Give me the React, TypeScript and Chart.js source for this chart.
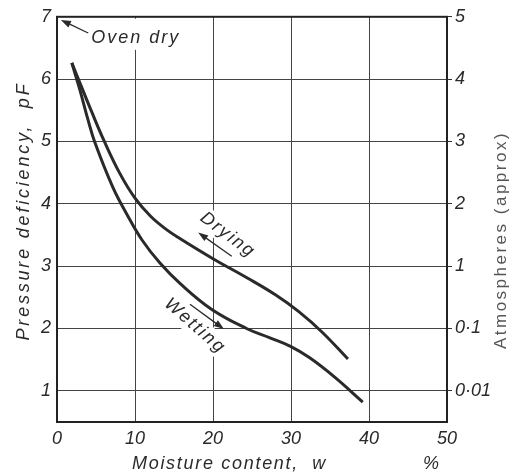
import React, { useEffect, useRef } from 'react';
import { Chart, registerables } from 'chart.js';

Chart.register(...registerables);

// ---- data ----
const moistureTicks = [0, 10, 20, 30, 40, 50];
const pFTicks = [1, 2, 3, 4, 5, 6, 7];
const atmosphereLabels = ['0·01', '0·1', '1', '2', '3', '4', '5'];

const dryingMoisture = [1.9, 3.0, 4.4, 6.0, 8.0, 10.0, 12.0, 14.0, 15.8, 20.0, 24.4, 28.0, 31.0, 34.0, 37.3];
const dryingPF = [6.26, 5.92, 5.49, 5.02, 4.5, 4.09, 3.8, 3.59, 3.44, 3.12, 2.81, 2.54, 2.27, 1.94, 1.51];

const wettingMoisture = [1.9, 2.95, 3.97, 4.87, 7.18, 8.97, 10.9, 13.2, 15.8, 19.8, 24.3, 27.3, 30.0, 32.4, 35.6, 39.2];
const wettingPF = [6.26, 5.82, 5.35, 4.98, 4.26, 3.83, 3.42, 3.05, 2.72, 2.31, 2.0, 1.85, 1.71, 1.53, 1.22, 0.82];

const xTitle = 'Moisture content,  w';
const xUnit = '%';
const yTitle = 'Pressure deficiency,  pF';
const y2Title = 'Atmospheres (approx)';

const FONT = '"Liberation Sans", Arial, sans-serif';
const INK = '#2a2a2a';

function arrow(ctx: CanvasRenderingContext2D, x1: number, y1: number, x2: number, y2: number) {
  const a = Math.atan2(y2 - y1, x2 - x1);
  const L = 10, W = 3.5;
  ctx.beginPath();
  ctx.moveTo(x1, y1);
  ctx.lineTo(x2 - L * 0.8 * Math.cos(a), y2 - L * 0.8 * Math.sin(a));
  ctx.stroke();
  ctx.beginPath();
  ctx.moveTo(x2, y2);
  ctx.lineTo(x2 - L * Math.cos(a) + W * Math.sin(a), y2 - L * Math.sin(a) - W * Math.cos(a));
  ctx.lineTo(x2 - L * Math.cos(a) - W * Math.sin(a), y2 - L * Math.sin(a) + W * Math.cos(a));
  ctx.closePath();
  ctx.fill();
}

const annotate = {
  id: 'annotate',
  beforeDatasetsDraw(chart: any) {
    const { ctx, scales } = chart;
    const px = (v: number) => scales.x.getPixelForValue(v);
    const py = (v: number) => scales.y.getPixelForValue(v);
    ctx.save();
    ctx.fillStyle = '#ffffff';
    // background of "Oven dry"
    ctx.fillRect(px(3.7), py(6.97), px(17) - px(3.7), py(6.47) - py(6.97));
    // rotated backgrounds
    const box = (cx: number, cy: number, ang: number, w: number, h: number) => {
      ctx.save();
      ctx.translate(cx, cy);
      ctx.rotate(ang);
      ctx.fillRect(-w / 2, -h / 2, w, h);
      ctx.restore();
    };
    box(px(21.9), py(3.5), (37 * Math.PI) / 180, 70, 22);
    box(px(17.7), py(2.04), (41 * Math.PI) / 180, 80, 22);
    ctx.restore();
  },
  afterDatasetsDraw(chart: any) {
    const { ctx, scales, chartArea } = chart;
    const px = (v: number) => scales.x.getPixelForValue(v);
    const py = (v: number) => scales.y.getPixelForValue(v);
    ctx.save();
    // frame
    ctx.strokeStyle = '#222';
    ctx.lineWidth = 2;
    ctx.strokeRect(chartArea.left, chartArea.top, chartArea.right - chartArea.left, chartArea.bottom - chartArea.top);

    ctx.fillStyle = INK;
    ctx.strokeStyle = INK;
    ctx.lineWidth = 1.3;
    (ctx as any).letterSpacing = '2px';

    // Oven dry
    ctx.font = `italic 18px ${FONT}`;
    ctx.textAlign = 'left';
    ctx.textBaseline = 'alphabetic';
    ctx.fillText('Oven dry', px(4.4), py(6.58));
    arrow(ctx, px(4.0), py(6.74), px(0.5), py(6.95));

    // Drying
    ctx.save();
    ctx.translate(px(21.9), py(3.5));
    ctx.rotate((37 * Math.PI) / 180);
    ctx.textAlign = 'center';
    ctx.textBaseline = 'middle';
    ctx.fillText('Drying', 0, 0);
    ctx.restore();
    arrow(ctx, px(22.4), py(3.16), px(18.1), py(3.54));

    // Wetting
    ctx.save();
    ctx.translate(px(17.7), py(2.04));
    ctx.rotate((41 * Math.PI) / 180);
    ctx.textAlign = 'center';
    ctx.textBaseline = 'middle';
    ctx.fillText('Wetting', 0, 0);
    ctx.restore();
    arrow(ctx, px(17.05), py(2.39), px(21.4), py(1.99));

    // axis titles
    (ctx as any).letterSpacing = '1.7px';
    ctx.textAlign = 'left';
    ctx.textBaseline = 'alphabetic';
    ctx.fillText(xTitle, 132, 469);
    ctx.fillText(xUnit, 423, 469);

    (ctx as any).letterSpacing = '2.8px';
    ctx.save();
    ctx.translate(29, 211);
    ctx.rotate(-Math.PI / 2);
    ctx.textAlign = 'center';
    ctx.fillText(yTitle, 0, 0);
    ctx.restore();

    (ctx as any).letterSpacing = '2.5px';
    ctx.fillStyle = '#555';
    ctx.font = `17px ${FONT}`;
    ctx.save();
    ctx.translate(506, 240);
    ctx.rotate(-Math.PI / 2);
    ctx.textAlign = 'center';
    ctx.fillText(y2Title, 0, 0);
    ctx.restore();

    ctx.restore();
  },
};

export default function App() {
  const ref = useRef<HTMLCanvasElement>(null);
  useEffect(() => {
    if (!ref.current) return;
    const tickFont = { family: FONT, size: 18, style: 'italic' as const };
    const chart = new Chart(ref.current, {
      type: 'line',
      data: {
        datasets: [
          {
            label: 'Drying',
            data: dryingMoisture.map((x, i) => ({ x, y: dryingPF[i] })),
            borderColor: INK,
            borderWidth: 3,
            pointRadius: 0,
            tension: 0.4,
            fill: false,
          },
          {
            label: 'Wetting',
            data: wettingMoisture.map((x, i) => ({ x, y: wettingPF[i] })),
            borderColor: INK,
            borderWidth: 3,
            pointRadius: 0,
            tension: 0.4,
            fill: false,
          },
        ],
      },
      options: {
        responsive: false,
        devicePixelRatio: 1,
        animation: false,
        layout: { padding: { top: 14, left: 0, right: 0, bottom: 0 } },
        plugins: { legend: { display: false }, tooltip: { enabled: false } },
        scales: {
          x: {
            type: 'linear',
            position: 'bottom',
            min: 0,
            max: 50,
            afterBuildTicks: (s: any) => {
              s.ticks = moistureTicks.map((v) => ({ value: v }));
            },
            afterFit: (s: any) => {
              s.height = 53;
            },
            ticks: { font: tickFont, color: INK, padding: 6, maxRotation: 0 },
            grid: { color: '#444', lineWidth: 1, drawTicks: false },
            border: { display: false },
          },
          y: {
            type: 'linear',
            position: 'left',
            min: 0.5,
            max: 7,
            afterBuildTicks: (s: any) => {
              s.ticks = pFTicks.map((v) => ({ value: v }));
            },
            afterFit: (s: any) => {
              s.width = 57;
            },
            ticks: { font: tickFont, color: INK, padding: 6 },
            grid: { color: '#444', lineWidth: 1, drawTicks: false },
            border: { display: false },
          },
          y2: {
            type: 'linear',
            position: 'right',
            min: 0.5,
            max: 7,
            afterBuildTicks: (s: any) => {
              s.ticks = pFTicks.map((v) => ({ value: v }));
            },
            afterFit: (s: any) => {
              s.width = 62;
            },
            ticks: {
              font: tickFont,
              color: INK,
              padding: 3,
              callback: (v: any) => atmosphereLabels[pFTicks.indexOf(Number(v))] ?? '',
            },
            grid: { drawOnChartArea: false, drawTicks: true, tickLength: 5, color: '#333' },
            border: { display: false },
          },
        },
      },
      plugins: [annotate],
    });
    return () => chart.destroy();
  }, []);
  return (
    <div style={{ position: 'absolute', left: 0, top: 0, width: 509, height: 475, background: '#fff' }}>
      <canvas ref={ref} width={509} height={475} style={{ display: 'block' }} />
    </div>
  );
}
